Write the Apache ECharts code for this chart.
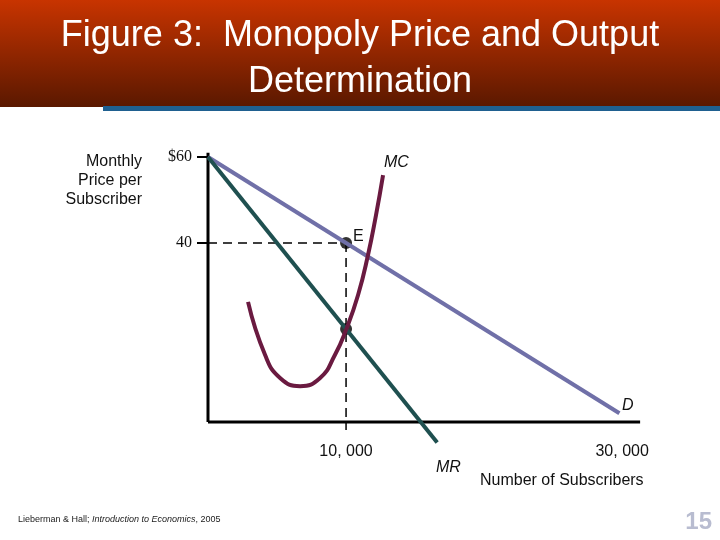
<!DOCTYPE html><html><head><meta charset="utf-8"><script src="https://cdn.jsdelivr.net/npm/echarts@6/dist/echarts.min.js"></script>
<style>html,body{margin:0;padding:0;background:#fff}#c{width:720px;height:540px}</style></head><body><div id="c"></div><script>
var demand=[[0,60],[29800,0.4]];
var mr=[[0,60],[16600,-6.4]];
var mc=[[2900,26.3],[4130,14],[5220,8.6],[6670,6.7],[8120,8.6],[9200,14],[10000,19.8],[10870,27.9],[11590,37.2],[12170,46.5],[12680,55.8]];
var eq=[[10000,40]];
var mrPt=[[10000,20]];
var hDash=[[0,40],[10000,40]];
var vDash=[[10000,40],[10000,-3.5]];
var yAx=[[0,-1.6],[0,61]];
var xAx=[[0,-1.6],[31300,-1.6]];
var yTicks=[40,60];
var xTicks=[10000,30000];
var c=echarts.init(document.getElementById('c'));
function ln(d,col,w,t){return {type:'line',data:d,symbol:'none',clip:false,silent:true,lineStyle:{color:col,width:w,type:t||'solid'}};}
c.setOption({animation:false,
grid:{left:208,right:15,top:148.4,bottom:82},
xAxis:{type:'value',min:0,max:36000,axisLine:{show:false},splitLine:{show:false},axisTick:{show:false},
 axisLabel:{customValues:xTicks,margin:-14,fontSize:16,fontFamily:'Liberation Sans',color:'#111',formatter:function(v){return (v/1000)+', 000';}}},
yAxis:{type:'value',min:-10,max:62,axisLine:{show:false},splitLine:{show:false},
 axisTick:{show:true,customValues:yTicks,length:11,lineStyle:{color:'#000',width:2}},
 axisLabel:{customValues:yTicks,margin:16,fontSize:16,fontFamily:'Liberation Serif',color:'#111',formatter:function(v){return v==60?'$60':''+v;}}},
series:[ln(yAx,'#000',3),ln(xAx,'#000',3),ln(hDash,'#000',1.5,[9,6]),ln(vDash,'#000',1.5,[9,6]),
 ln(demand,'#7070a8',4),ln(mr,'#1f5050',4),
 Object.assign(ln(mc,'#6a1a40',4),{smooth:0.5}),
 {type:'scatter',data:eq.concat(mrPt),symbolSize:12,itemStyle:{color:'#000'},silent:true}],
graphic:[
 {type:'rect',shape:{x:0,y:0,width:720,height:107},style:{fill:new echarts.graphic.LinearGradient(0,0,0,1,[{offset:0,color:'#c83400'},{offset:1,color:'#5a1800'}])}},
 {type:'rect',shape:{x:103,y:106,width:617,height:5},style:{fill:'#1f6090'}},
 {type:'text',x:360,y:13,style:{text:'Figure 3:  Monopoly Price and Output\nDetermination',fill:'#fff',font:'36px Liberation Sans',align:'center',lineHeight:46}},
 {type:'text',x:142,y:152,style:{text:'Monthly\nPrice per\nSubscriber',fill:'#111',font:'16px Liberation Sans',align:'right',lineHeight:19}},
 {type:'text',x:384,y:155,style:{text:'MC',fill:'#111',font:'italic 16px Liberation Sans'}},
 {type:'text',x:353,y:229,style:{text:'E',fill:'#111',font:'16px Liberation Sans'}},
 {type:'text',x:622,y:398,style:{text:'D',fill:'#111',font:'italic 16px Liberation Sans'}},
 {type:'text',x:436,y:460,style:{text:'MR',fill:'#111',font:'italic 16px Liberation Sans'}},
 {type:'text',x:480,y:473,style:{text:'Number of Subscribers',fill:'#111',font:'16px Liberation Sans'}},
 {type:'text',x:18,y:515,style:{rich:{a:{font:'9px Liberation Sans',fill:'#222'},b:{font:'italic 9px Liberation Sans',fill:'#222'}},text:'{a|Lieberman & Hall; }{b|Introduction to Economics}{a|, 2005}'}},
 {type:'text',x:712,y:510,style:{text:'15',fill:'#b8bcd0',font:'bold 24px Liberation Sans',align:'right'}}
]});
</script></body></html>
